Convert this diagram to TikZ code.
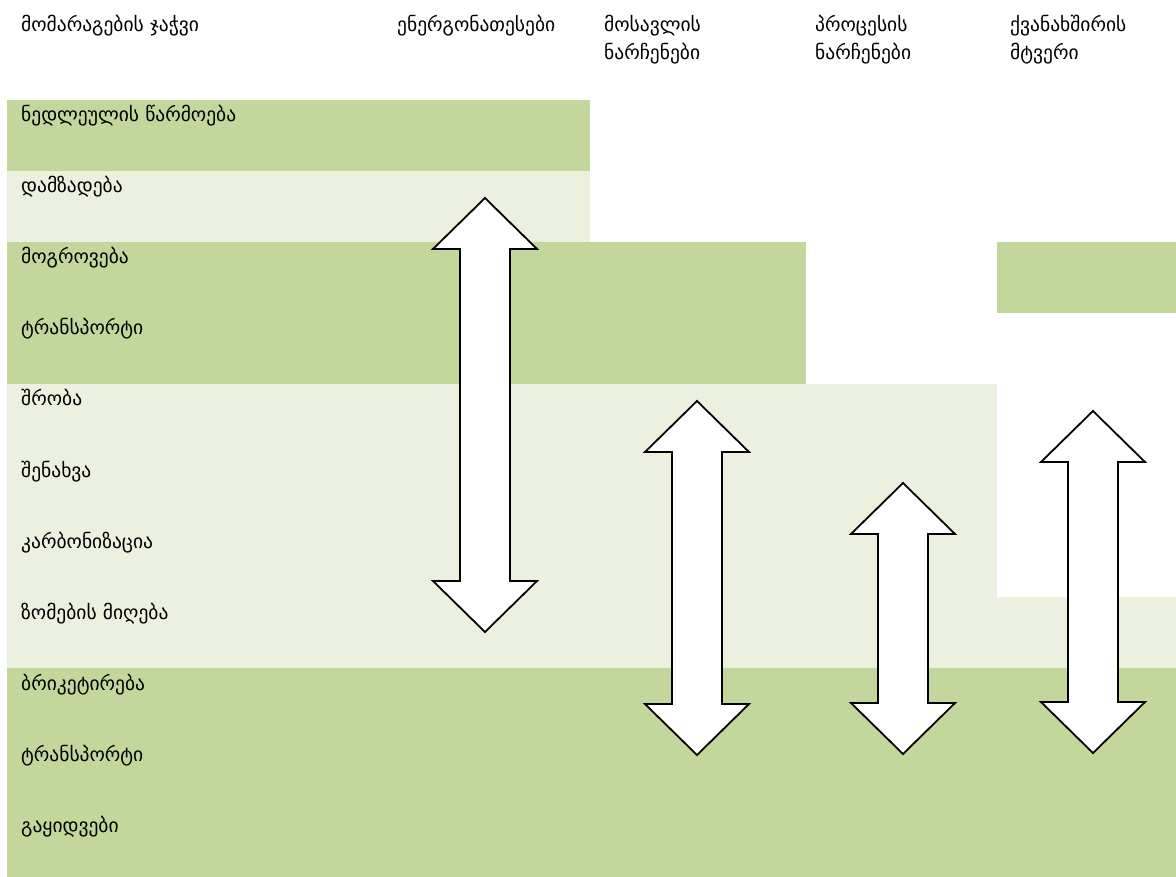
\documentclass[tikz,border=0pt]{standalone}
\usepackage{fontspec}
\newfontfamily\geofont[Script=Georgian]{DejaVu Sans}
\definecolor{darkg}{HTML}{C3D69B}
\definecolor{lightg}{HTML}{EBF1DE}
\tikzset{
  lbl/.style={anchor=base west, inner sep=0pt, font=\geofont\fontsize{19.5}{28}\selectfont},
  hdr/.style={anchor=base west, inner sep=0pt, align=left, font=\geofont\fontsize{19.5}{28}\selectfont},
  blk/.style={draw=black, line width=1.8pt, fill=white, line join=miter},
}
\newcommand\dblarr[4]{% x, top, bottom, name
  \path[blk] (#1,#2) -- (#1+52,#2+51) -- (#1+25,#2+51) -- (#1+25,#3-51) -- (#1+52,#3-51)
    -- (#1,#3) -- (#1-52,#3-51) -- (#1-25,#3-51) -- (#1-25,#2+51) -- (#1-52,#2+51) -- cycle;
  \coordinate (#4) at (#1,{(#2+#3)/2});
}
\begin{document}
\begin{tikzpicture}[x=1pt,y=-1pt]
\useasboundingbox (0,0) rectangle (1176,877);
% background bands
\fill[darkg] (7,100) rectangle (590,171);
\fill[lightg] (7,171) rectangle (590,242);
\fill[darkg] (7,242) rectangle (806,384);
\fill[darkg] (997,242) rectangle (1176,313);
\fill[lightg] (7,384) rectangle (997,668);
\fill[lightg] (997,597) rectangle (1176,668);
\fill[darkg] (7,668) rectangle (1176,877);
% headers
\node[hdr] (h1) at (21,32) {მომარაგების ჯაჭვი};
\node[hdr] (h2) at (397,32) {ენერგონათესები};
\node[hdr] (h3) at (604,60) {მოსავლის\\ნარჩენები};
\node[hdr] (h4) at (815,60) {პროცესის\\ნარჩენები};
\node[hdr] (h5) at (1010,60) {ქვანახშირის\\მტვერი};
% row labels
\node[lbl] (r1) at (21,122) {ნედლეულის წარმოება};
\node[lbl] (r2) at (21,193) {დამზადება};
\node[lbl] (r3) at (21,264) {მოგროვება};
\node[lbl] (r4) at (21,335) {ტრანსპორტი};
\node[lbl] (r5) at (21,406) {შრობა};
\node[lbl] (r6) at (21,477) {შენახვა};
\node[lbl] (r7) at (21,548) {კარბონიზაცია};
\node[lbl] (r8) at (21,619) {ზომების მიღება};
\node[lbl] (r9) at (21,690) {ბრიკეტირება};
\node[lbl] (r10) at (21,761) {ტრანსპორტი};
\node[lbl] (r11) at (21,832) {გაყიდვები};
% double arrows
\dblarr{485}{198}{632}{a1}
\dblarr{697}{401}{755}{a2}
\dblarr{903}{483}{754}{a3}
\dblarr{1093}{411}{753}{a4}
\end{tikzpicture}
\end{document}
